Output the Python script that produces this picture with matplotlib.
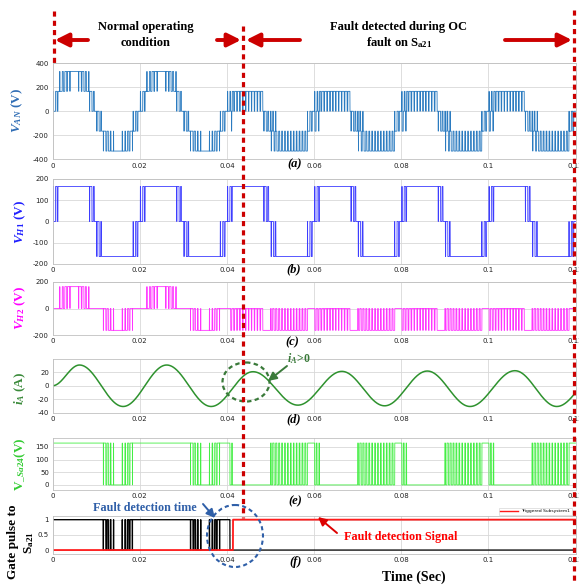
import numpy as np
import matplotlib.pyplot as plt
from matplotlib.patches import Ellipse
from matplotlib.lines import Line2D

plt.rcParams['mathtext.fontset'] = 'custom'
plt.rcParams['mathtext.rm'] = 'Liberation Serif:bold'
plt.rcParams['mathtext.it'] = 'Liberation Serif:italic:bold'
plt.rcParams['mathtext.bf'] = 'Liberation Serif:bold'

# ---- values ----
f0 = 50.0            # fundamental, period 0.02 s
f_carrier = 1500.0   # PWM carrier
v_dc = 165.0         # H-bridge cell voltage
m_index = 1.02
t_fault = 0.0407     # gate to Sa21 removed
t_detect = 0.0414    # detection signal goes high
t_end = 0.12

# phase current: peaks and troughs
i_knot_t = [0.0, 0.0062, 0.0162, 0.0262, 0.0364, 0.0460, 0.0563, 0.0664, 0.0762,
            0.0860, 0.0958, 0.1061, 0.1157, 0.1257]
i_knot_v = [0, 31, -31, 31, -31, 21, -29, 21.5, -30, 22, -31, 22.5, -31, 22]

xticks = [0, 0.02, 0.04, 0.06, 0.08, 0.1, 0.12]
xtick_labels = ['0', '0.02', '0.04', '0.06', '0.08', '0.1', '0.12']

# ---- waveforms ----
t = np.arange(0, t_end, 2e-6)


def tri(t, fc, ph):
    return np.abs(2 * ((t * fc + ph) % 1.0) - 1)


s = np.sin(2 * np.pi * f0 * t)
c = np.cos(2 * np.pi * f0 * t)
sgn = np.sign(s)
u = m_index * np.abs(s)
c1 = tri(t, f_carrier, 0.25)
c2 = tri(t, f_carrier, 0.0)

vh1 = v_dc * sgn * (2 * u > c1)
vh2_ok = v_dc * sgn * ((2 * u - 1) > c2)

# after the open-circuit fault H2 only gives 0 / -Vdc
pulse_f = (0.45 - 0.3 * s) > c2
pulse_f = np.where((s > 0) & (c < 0) & (s < 0.5), True, pulse_f)     # end of + half
pulse_f = np.where((s < 0) & (c > 0) & (s > -0.45), False, pulse_f)  # end of - half
vh2_f = -v_dc * pulse_f
after = t >= t_fault
vh2 = np.where(after, vh2_f, vh2_ok)
van = vh1 + vh2

tk = np.array(i_knot_t)
vk = np.array(i_knot_v)
k = np.clip(np.searchsorted(tk, t, side='right') - 1, 0, len(tk) - 2)
ph = (t - tk[k]) / (tk[k + 1] - tk[k])
i_a = vk[k] + (vk[k + 1] - vk[k]) * (1 - np.cos(np.pi * ph)) / 2

vsa24_ok = v_dc * (vh2_ok >= 0)
vsa24_f = np.where((s > 0) & (vh1 > 0), 0.0, v_dc * (vh2_f == 0))
vsa24 = np.where(after, vsa24_f, vsa24_ok)

gate = np.where(after, 0.0, (vh2_ok >= 0).astype(float))
detect = (t >= t_detect).astype(float)

# ---- figure ----
W_PX, H_PX = 579, 585
fig = plt.figure(figsize=(W_PX / 100, H_PX / 100), dpi=100)
L = 52.5 / W_PX
Wd = (575.5 - 52.5) / W_PX


def panel(top, bottom, ylim, yticks, ylabels):
    ax = fig.add_axes([L, 1 - bottom / H_PX, Wd, (bottom - top) / H_PX])
    ax.set_xlim(0, t_end)
    ax.set_ylim(*ylim)
    ax.set_xticks(xticks)
    ax.set_xticklabels(xtick_labels)
    ax.set_yticks(yticks)
    ax.set_yticklabels(ylabels)
    ax.tick_params(length=0, labelsize=5, pad=2.5, colors='#222222')
    for lab in ax.get_xticklabels() + ax.get_yticklabels():
        lab.set_family(['Liberation Sans Narrow', 'DejaVu Sans'])
    ax.grid(True, color='#d8d8d8', lw=0.6)
    for sp in ax.spines.values():
        sp.set_color('#c0c0c0')
        sp.set_linewidth(0.6)
    return ax


ax1 = panel(63, 159.5, (-400, 400), [-400, -200, 0, 200, 400],
            ['-400', '-200', '0', '200', '400'])
ax1.plot(t, van, color='#2b7bc0', lw=0.6)

ax2 = panel(179, 264, (-200, 200), [-200, -100, 0, 100, 200],
            ['-200', '-100', '0', '100', '200'])
ax2.plot(t, vh1, color='#3d3dff', lw=0.6)

ax3 = panel(282, 335, (-200, 200), [-200, 0, 200], ['-200', '0', '200'])
ax3.plot(t, vh2, color='#ff33ff', lw=0.6)

ax4 = panel(359, 412.5, (-40, 40), [-40, -20, 0, 20], ['-40', '-20', '0', '20'])
ax4.plot(t, i_a, color='#2e922e', lw=1.1)

ax5 = panel(438, 490, (-20, 185), [0, 50, 100, 150], ['0', '50', '100', '150'])
ax5.plot(t, vsa24, color='#44ee44', lw=0.6)

ax6 = panel(516, 554, (-0.13, 1.12), [0, 0.5, 1], ['0', '0.5', '1'])
ax6.plot(t, gate, color='black', lw=0.9)
ax6.plot(t, detect, color='#ff1a1a', lw=1.3)
leg = ax6.legend(handles=[Line2D([], [], color='#ff1a1a', lw=1)],
                 labels=['Triggered Subsystem1'], loc='lower right',
                 bbox_to_anchor=(0.997, 0.98), fontsize=3.2, handlelength=4,
                 borderpad=0.3, frameon=True, fancybox=False)
leg.get_frame().set_edgecolor('#cccccc')
leg.get_frame().set_linewidth(0.5)

# ---- annotations in pixel coordinates ----
ov = fig.add_axes([0, 0, 1, 1], zorder=10)
ov.set_xlim(0, W_PX)
ov.set_ylim(H_PX, 0)
ov.axis('off')
ov.patch.set_alpha(0)

serif = 'Liberation Serif'
red = '#cc0000'

for x, y0, y1 in [(53.5, 11, 63), (243, 26, 518), (574, 10, 583)]:
    ov.plot([x, x], [y0, y1], color=red, lw=2.3, ls=(0, (1.6, 1.3)))

for (x0, x1) in [(88, 55), (217, 241), (300, 246), (505, 572)]:
    ov.annotate('', xy=(x1, 40), xytext=(x0, 40),
                arrowprops=dict(arrowstyle='-|>,head_length=0.8,head_width=0.4',
                                color=red, lw=2.8, shrinkA=0, shrinkB=0))

ov.text(146, 27, 'Normal operating', ha='center', va='center', family=serif,
        weight='bold', fontsize=9)
ov.text(146, 43, 'condition', ha='center', va='center', family=serif,
        weight='bold', fontsize=9)
ov.text(398, 27, 'Fault detected during OC', ha='center', va='center', family=serif,
        weight='bold', fontsize=9)
ov.text(399, 43, r'fault on S$_{\mathrm{a21}}$', ha='center', va='center', family=serif,
        weight='bold', fontsize=9)

# panel letters
for lab, x, y in [('(a)', 295, 164), ('(b)', 294, 269), ('(c)', 292, 342),
                  ('(d)', 294, 419), ('(e)', 295, 501), ('(f)', 296, 562)]:
    ov.text(x, y, lab, ha='center', va='center', family=serif, weight='bold',
            style='italic', fontsize=9)

# y labels
ylab = [(r'$V_{AN}$ (V)', '#2f6db5', 17, 110),
        (r'$V_{H1}$ (V)', '#1f1fff', 20, 222),
        (r'$V_{H2}$ (V)', '#ff00ff', 20, 308),
        (r'$i_{A}$ (A)', '#3a8a3a', 20, 388),
        (r'V$_{\_Sa24}$(V)', '#33cc33', 20, 464)]
for txt, col, x, y in ylab:
    ov.text(x, y, txt, rotation=90, ha='center', va='center', color=col,
            family=serif, weight='bold', fontsize=9.5)
ov.text(13, 542, 'Gate pulse to', rotation=90, ha='center', va='center',
        family=serif, weight='bold', fontsize=9.5)
ov.text(29, 543, r'S$_{\mathrm{a21}}$', rotation=90, ha='center', va='center',
        family=serif, weight='bold', fontsize=9.5)

ov.text(414, 577, 'Time (Sec)', ha='center', va='center', family=serif,
        weight='bold', fontsize=10)

# fault detection time
blue = '#2f5fa8'
ov.text(145, 508, 'Fault detection time', ha='center', va='center', color=blue,
        family=serif, weight='bold', fontsize=8.7)
ov.annotate('', xy=(215, 518), xytext=(203, 504),
            arrowprops=dict(arrowstyle='-|>,head_length=0.5,head_width=0.25',
                            color=blue, lw=1.4, shrinkA=0, shrinkB=0))
ov.add_patch(Ellipse((235, 536), 56, 62, fill=False, ec=blue, lw=1.5, ls=(0, (2, 1.5))))

# i_A > 0
green = '#3a7a3a'
ov.add_patch(Ellipse((246, 382), 47, 39, fill=False, ec=green, lw=1.6, ls=(0, (2, 1.5))))
ov.text(287, 359, r'$i_{A}\!>\!0$', ha='left', va='center', color=green, fontsize=8.5)
ov.annotate('', xy=(268, 381), xytext=(287, 366),
            arrowprops=dict(arrowstyle='-|>,head_length=0.5,head_width=0.25',
                            color=green, lw=1.4, shrinkA=0, shrinkB=0))

# fault detection signal
ov.text(401, 537, 'Fault detection Signal', ha='center', va='center', color='#ff0000',
        family=serif, weight='bold', fontsize=8.7)
ov.annotate('', xy=(318, 517), xytext=(337, 533),
            arrowprops=dict(arrowstyle='-|>,head_length=0.5,head_width=0.25',
                            color='#dd0000', lw=1.4, shrinkA=0, shrinkB=0))

fig.savefig('out.png', dpi=100)
